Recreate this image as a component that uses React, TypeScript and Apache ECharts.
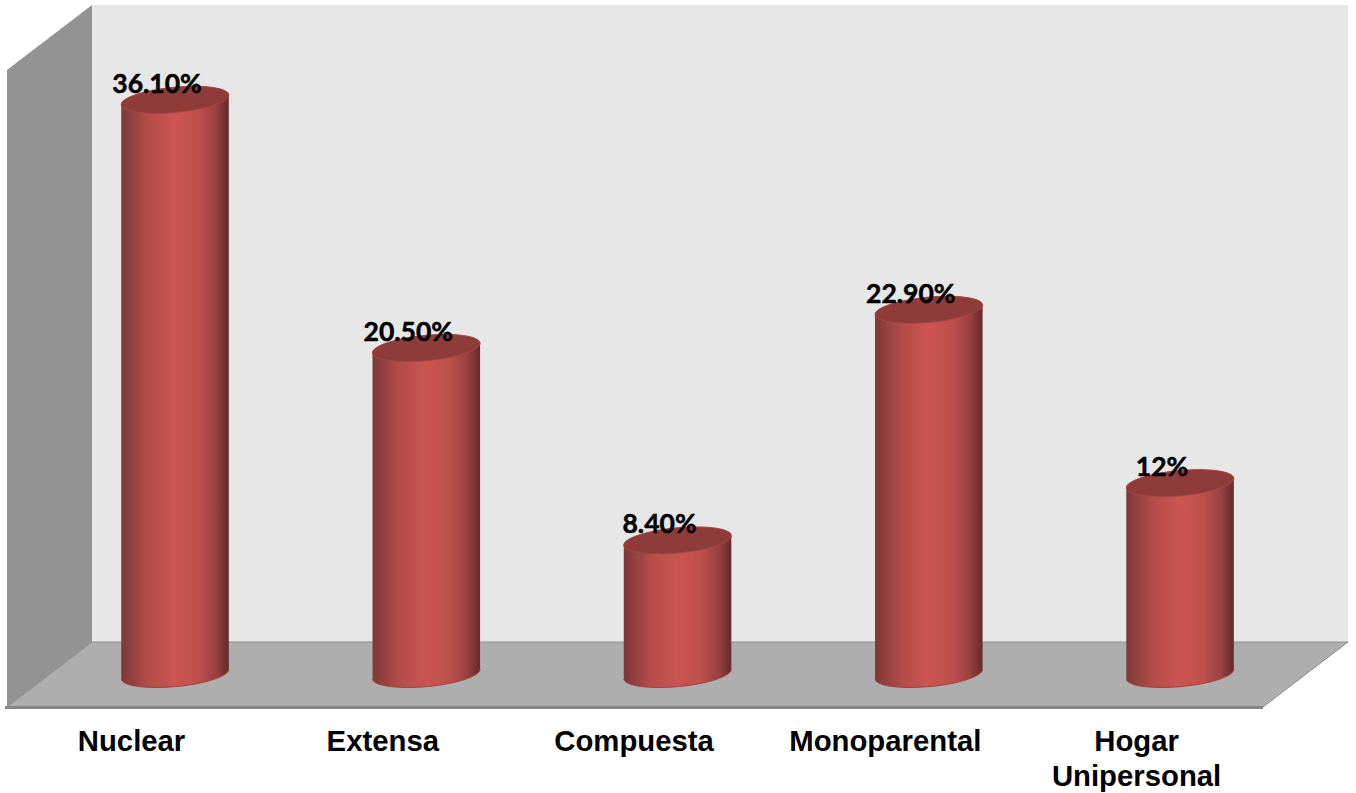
import React, { useEffect, useRef } from "react";
import * as echarts from "echarts";

const categories = ["Nuclear", "Extensa", "Compuesta", "Monoparental", "Hogar\nUnipersonal"];
const shares = [36.1, 20.5, 8.4, 22.9, 12];
const shareLabels = ["36.10%", "20.50%", "8.40%", "22.90%", "12%"];

const WIDTH = 1356;
const HEIGHT = 793;
const AXIS_MAX = 40;
const GRID_LEFT = 49.4;
const GRID_WIDTH = 1256.3;
const BASE_Y = 675;
const PX_PER_UNIT = 15.93;
const GRID_TOP = BASE_Y - AXIS_MAX * PX_PER_UNIT;

const RX = 54;
const RY = 12.6;
const TILT = (-5.3 * Math.PI) / 180;
const COS = Math.cos(TILT);
const SIN = Math.sin(TILT);

const bodyFill = new echarts.graphic.LinearGradient(0, 0, 1, 0, [
  { offset: 0, color: "#7c3837" },
  { offset: 0.08, color: "#8f3f3e" },
  { offset: 0.25, color: "#b44c4a" },
  { offset: 0.5, color: "#cc5553" },
  { offset: 0.72, color: "#bd4f4d" },
  { offset: 0.88, color: "#974240" },
  { offset: 1, color: "#652a2a" },
]);

const ellipsePoint = (cx: number, cy: number, t: number) => [
  cx + RX * Math.cos(t) * COS - RY * Math.sin(t) * SIN,
  cy + RX * Math.cos(t) * SIN + RY * Math.sin(t) * COS,
];

const ellipseTangent = (t: number) => [
  -RX * Math.sin(t) * COS - RY * Math.cos(t) * SIN,
  -RX * Math.sin(t) * SIN + RY * Math.cos(t) * COS,
];

// Half of a tilted ellipse as cubic segments, from angle t0 to t0 + sign * PI.
function halfEllipse(cx: number, cy: number, t0: number, sign: number) {
  const step = (sign * Math.PI) / 2;
  const k = (4 / 3) * Math.tan(step / 4);
  let d = "";
  for (let s = 0; s < 2; s++) {
    const a = t0 + s * step;
    const b = a + step;
    const p0 = ellipsePoint(cx, cy, a);
    const p1 = ellipsePoint(cx, cy, b);
    const ta = ellipseTangent(a);
    const tb = ellipseTangent(b);
    d += `C${p0[0] + k * ta[0]} ${p0[1] + k * ta[1]} ${p1[0] - k * tb[0]} ${p1[1] - k * tb[1]} ${p1[0]} ${p1[1]}`;
  }
  return d;
}

function renderCylinder(params: any, api: any) {
  const i = api.value(0);
  const [cx, topY] = api.coord([i, api.value(1)]);
  const [, baseY] = api.coord([i, 0]);
  const topLeft = ellipsePoint(cx, topY, Math.PI);
  const topRight = ellipsePoint(cx, topY, 0);
  const baseLeft = ellipsePoint(cx, baseY, Math.PI);
  const body =
    `M${topLeft[0]} ${topLeft[1]}L${baseLeft[0]} ${baseLeft[1]}` +
    halfEllipse(cx, baseY, Math.PI, -1) +
    `L${topRight[0]} ${topRight[1]}` +
    halfEllipse(cx, topY, 0, -1) +
    "Z";
  const lid =
    `M${topLeft[0]} ${topLeft[1]}` +
    halfEllipse(cx, topY, Math.PI, 1) +
    halfEllipse(cx, topY, 0, 1) +
    "Z";
  const rim = `M${baseLeft[0]} ${baseLeft[1]}` + halfEllipse(cx, baseY, Math.PI, -1);
  return {
    type: "group",
    children: [
      { type: "path", shape: { pathData: body }, style: { fill: bodyFill } },
      { type: "path", shape: { pathData: rim }, style: { fill: "none", stroke: "#a53f3d", lineWidth: 1 } },
      { type: "path", shape: { pathData: lid }, style: { fill: "#8e3b3a", stroke: "#a54745", lineWidth: 1 } },
      {
        type: "text",
        x: cx - 18,
        y: topY - 17,
        style: {
          text: shareLabels[params.dataIndex],
          fill: "#000",
          stroke: "#000",
          lineWidth: 0.5,
          font: "700 26.5px Lato",
          textAlign: "center",
          textVerticalAlign: "middle",
        },
      },
    ],
  };
}

// Back wall, side wall and floor of the 3D box behind the cylinders.
const boxScenery = [
  { type: "polygon", z: -10, shape: { points: [[92, 5], [1348, 5], [1348, 642], [92, 642]] }, style: { fill: "#e7e7e7" } },
  { type: "polygon", z: -9, shape: { points: [[7, 70], [92, 5], [92, 642], [7, 707]] }, style: { fill: "#939393" } },
  { type: "polygon", z: -8, shape: { points: [[92, 642], [1348, 642], [1263, 707], [7, 707]] }, style: { fill: "#aeaeae", stroke: "#8e8e8e", lineWidth: 1 } },
  { type: "line", z: -7, shape: { x1: 5, y1: 707.5, x2: 1263, y2: 707.5 }, style: { stroke: "#868686", lineWidth: 3 } },
];

export default function App() {
  const ref = useRef<HTMLDivElement>(null);
  useEffect(() => {
    const chart = echarts.init(ref.current!, undefined, { renderer: "svg" });
    chart.setOption({
      animation: false,
      backgroundColor: "#ffffff",
      graphic: { elements: boxScenery },
      grid: { left: GRID_LEFT, width: GRID_WIDTH, top: GRID_TOP, height: BASE_Y - GRID_TOP },
      xAxis: {
        type: "category",
        data: categories,
        axisLine: { show: false },
        axisTick: { show: false },
        axisLabel: {
          interval: 0,
          margin: 49,
          color: "#000",
          fontFamily: "Liberation Sans",
          fontWeight: 700,
          fontSize: 29.3,
          lineHeight: 35,
          padding: [0, 87, 0, 0],
        },
      },
      yAxis: { type: "value", min: 0, max: AXIS_MAX, show: false },
      series: [
        {
          type: "custom",
          renderItem: renderCylinder,
          clip: false,
          encode: { x: 0, y: 1 },
          data: shares.map((v, i) => [i, v]),
        },
      ],
    });
    return () => chart.dispose();
  }, []);
  return (
    <div
      ref={ref}
      style={{ position: "absolute", left: 0, top: 0, width: WIDTH, height: HEIGHT }}
    />
  );
}
